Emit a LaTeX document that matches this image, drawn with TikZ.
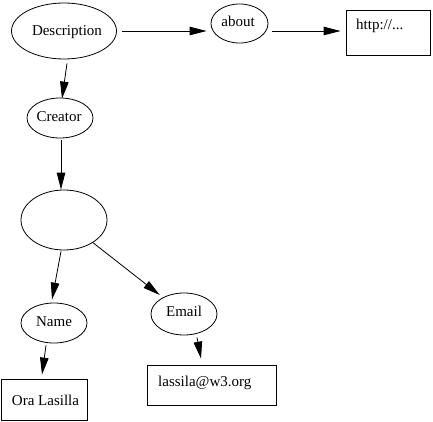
\documentclass[tikz,border=0pt]{standalone}
\usepackage{fontspec}
\setmainfont{Liberation Serif}
\usetikzlibrary{shapes.geometric,arrows.meta}
\begin{document}
\begin{tikzpicture}[x=1pt,y=-1pt,
  oval/.style={draw,ellipse,line width=0.8pt,inner sep=0pt},
  boxnode/.style={draw,rectangle,line width=0.8pt,inner sep=0pt},
  txt/.style={inner sep=0pt,font=\fontsize{15}{18}\selectfont},
  arr/.style={line width=0.8pt,-{Triangle[length=17pt,width=8.5pt]}}]
\useasboundingbox (0,0) rectangle (433,422);
% shapes
\node[oval,minimum width=105pt,minimum height=56pt] (desc) at (64,31) {};
\node[oval,minimum width=57pt,minimum height=39pt] (about) at (239.5,23.5) {};
\node[boxnode,minimum width=84pt,minimum height=45pt] (http) at (388,32.5) {};
\node[oval,minimum width=66pt,minimum height=40pt] (creator) at (60,118) {};
\node[oval,minimum width=86pt,minimum height=60pt] (blank) at (64,220) {};
\node[oval,minimum width=66pt,minimum height=40pt] (name) at (54,323) {};
\node[oval,minimum width=66pt,minimum height=42pt] (email) at (184,314) {};
\node[boxnode,minimum width=86pt,minimum height=41pt] (ora) at (44,399.5) {};
\node[boxnode,minimum width=129pt,minimum height=40pt] (lassila) at (211.5,385) {};
% texts
\node[txt,anchor=base] (tdesc) at (67,36) {Description};
\node[txt,anchor=base] (tabout) at (238,27) {about};
\node[txt,anchor=base west] (thttp) at (356,30) {http://...};
\node[txt,anchor=base] (tcreator) at (59,122) {Creator};
\node[txt,anchor=base] (tname) at (54,326.5) {Name};
\node[txt,anchor=base] (temail) at (184,316) {Email};
\node[txt,anchor=base west] (tlassila) at (158,386.5) {lassila@w3.org};
\node[txt,anchor=base] (tora) at (45.5,405) {Ora Lasilla};
% connectors
\draw[arr,shorten <=5pt,shorten >=4pt] (desc.east) -- (about.west |- desc.east);
\draw[arr,shorten <=4pt,shorten >=5pt] (about.east |- desc.east) -- (http.west |- desc.east);
\draw[arr] ([xshift=3pt,yshift=-4pt]desc.south) -- ([xshift=2pt,yshift=-1pt]creator.north);
\draw[arr,shorten <=2pt] ([xshift=1pt]creator.south) -- ([xshift=1pt]creator.south |- blank.north);
\draw[arr] ([xshift=-3pt,yshift=-1pt]blank.south) -- ([xshift=-2pt,yshift=3pt]name.north);
\draw[arr,shorten >=4pt] (blank) -- (email);
\draw[arr] ([xshift=-8pt,yshift=-2pt]name.south) -- ([xshift=-2pt,yshift=4pt]ora.north);
\draw[arr] ([xshift=13pt,yshift=-2pt]email.south) -- ([xshift=-10.5pt,yshift=6pt]lassila.north);
\end{tikzpicture}
\end{document}
